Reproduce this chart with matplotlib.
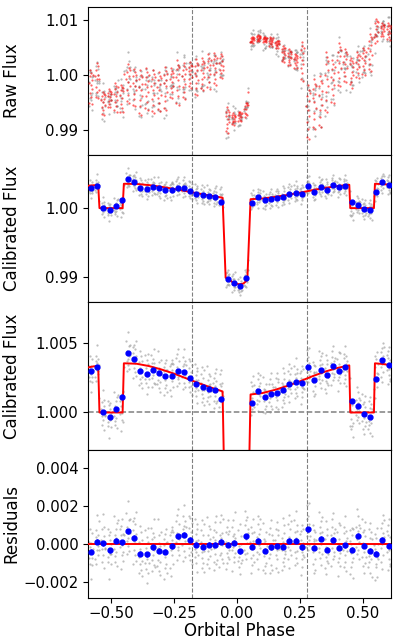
import numpy as np
import matplotlib
matplotlib.use('Agg')
import matplotlib.pyplot as plt

# ---------------- data ----------------
BIN_PHASE = [-0.581, -0.556, -0.532, -0.507, -0.482, -0.458, -0.433, -0.408, -0.384, -0.359,
             -0.334, -0.310, -0.285, -0.260, -0.236, -0.211, -0.186, -0.162, -0.137, -0.112,
             -0.088, -0.063, -0.038, -0.014, 0.011, 0.036, 0.060, 0.085, 0.110, 0.134,
             0.159, 0.184, 0.208, 0.233, 0.258, 0.282, 0.307, 0.332, 0.356, 0.381,
             0.406, 0.430, 0.455, 0.480, 0.504, 0.529, 0.553, 0.578, 0.603]

BIN_FLUX = [1.00296, 1.00325, 1.00005, 0.99971, 1.00024, 1.00115, 1.00428, 1.00387, 1.00300, 1.00281,
            1.00308, 1.00286, 1.00260, 1.00264, 1.00300, 1.00293, 1.00250, 1.00204, 1.00185, 1.00173,
            1.00163, 1.00096, 0.98966, 0.98907, 0.98859, 0.98985, 1.00072, 1.00156, 1.00111, 1.00132,
            1.00144, 1.00159, 1.00207, 1.00221, 1.00212, 1.00325, 1.00238, 1.00308, 1.00267, 1.00332,
            1.00303, 1.00327, 1.00084, 1.00046, 0.99990, 0.99971, 1.00240, 1.00382, 1.00341]

BIN_RESID = [-0.00040, 0.00012, 0.00005, -0.00031, 0.00019, 0.00010, 0.00068, 0.00033, -0.00049, -0.00052,
             -0.00016, -0.00033, -0.00040, -0.00010, 0.00043, 0.00050, 0.00023, -0.00002, -0.00014, -0.00003,
             -0.00002, 0.00012, -0.00003, 0.00009, -0.00037, 0.00043, -0.00014, 0.00019, -0.00033, -0.00017,
             -0.00010, -0.00014, 0.00019, 0.00019, -0.00016, 0.00078, -0.00019, 0.00030, -0.00030, 0.00023,
             -0.00019, -0.00005, -0.00030, 0.00045, -0.00009, -0.00033, -0.00049, 0.00023, -0.00009]

BIN_FLUX_ERR = 0.00013

MODEL_PHASE = [-0.593, -0.570, -0.552, -0.547, -0.455, -0.450, -0.40, -0.35, -0.30, -0.25,
               -0.20, -0.15, -0.10, -0.0577, -0.0455, -0.033, -0.020, -0.008, 0.010, 0.025,
               0.036, 0.041, 0.0536, 0.10, 0.15, 0.20, 0.25, 0.30, 0.35, 0.40,
               0.446, 0.450, 0.544, 0.548, 0.58, 0.613]
MODEL_FLUX = [1.00325, 1.00333, 1.00336, 1.00000, 1.00000, 1.00355, 1.00352, 1.00335, 1.00310, 1.00280,
              1.00245, 1.00210, 1.00178, 1.00152, 0.98985, 0.98965, 0.98925, 0.98900, 0.98890, 0.98900,
              0.98935, 0.98975, 1.00130, 1.00140, 1.00163, 1.00192, 1.00225, 1.00262, 1.00295, 1.00322,
              1.00340, 1.00000, 1.00000, 1.00355, 1.00350, 1.00340]

EXPOSURE_OFFSET = [-0.0070, -0.0057, -0.0044, -0.0032, -0.0019, -0.0006,
                   0.0006, 0.0019, 0.0032, 0.0044, 0.0057, 0.0070]
# systematic (pointing) pattern of the 12 exposures within each orbit, relative units
RAMP_SHAPE = [0.32, -1.20, 0.78, -0.45, 1.30, -0.80, 0.12, 1.05, -1.30, 0.52, -0.20, 0.90]

RAW_MID = [0.99785, 0.99895, 0.99485, 0.99575, 0.99590, 0.99560, 0.99845, 0.99770, 0.99680, 0.99740,
           0.99695, 0.99695, 0.99755, 0.99850, 0.99860, 0.99895, 1.00000, 0.99955, 1.00015, 1.00060,
           1.00105, 1.00165, 0.99180, 0.99195, 0.99240, 0.99365, 1.00640, 1.00670, 1.00640, 1.00605,
           1.00560, 1.00380, 1.00320, 1.00255, 1.00245, 0.99320, 0.99470, 0.99515, 0.99875, 0.99875,
           1.00185, 1.00165, 1.00030, 1.00180, 1.00245, 1.00410, 1.00820, 1.00820, 1.00790]
RAW_HALF = [0.0024, 0.0025, 0.0016, 0.0013, 0.0020, 0.0020, 0.0027, 0.0026, 0.0031, 0.0029,
            0.0030, 0.0027, 0.0030, 0.0021, 0.0031, 0.0025, 0.0018, 0.0025, 0.0022, 0.0024,
            0.0022, 0.0017, 0.0018, 0.0008, 0.0007, 0.0010, 0.0004, 0.0004, 0.0004, 0.0006,
            0.0005, 0.0011, 0.0011, 0.0010, 0.0027, 0.0038, 0.0035, 0.0036, 0.0042, 0.0030,
            0.0030, 0.0023, 0.0021, 0.0018, 0.0019, 0.0026, 0.0015, 0.0009, 0.0012]

# point-to-point scatter about each bin (units of 1e-5)
SCATTER = [
    [52, -31, 118, -64, 27, -8, -143, 45, -71, 97, -35, 13],
    [-88, 24, 61, -117, 9, 143, -42, -70, 35, -19, 108, -44],
    [17, -96, 73, -28, 156, -61, -5, 40, -132, 88, -23, -29],
    [-64, 111, -37, 82, -9, -150, 54, -21, 96, -73, 30, -19],
    [129, -44, -83, 27, -110, 61, 14, -58, 92, -6, -131, 109],
    [-23, 70, -141, 38, 85, -67, 121, -15, -96, 44, -52, 36],
    [94, -120, 25, -49, 160, -33, -78, 58, -11, -105, 67, -8],
    [-137, 42, 88, -15, -63, 104, -29, 71, -92, 19, 134, -122],
    [61, -18, -104, 147, -55, 23, -86, 112, 7, -41, -119, 73],
    [-46, 128, -9, -77, 33, -152, 90, -24, 65, 138, -101, -45],
    [103, -65, 41, -126, 18, 76, -38, -95, 149, -12, 52, -103],
    [-79, 15, 163, -48, -107, 37, 84, -131, 26, -58, 99, -1],
    [34, -141, 67, 93, -26, -84, 12, 120, -63, 45, -109, 52],
    [-115, 59, -20, 74, -158, 101, -47, 31, 86, -92, 6, 75],
    [78, -33, -125, 16, 109, -71, 142, -56, -18, 63, -97, -8],
    [-54, 97, 28, -139, 46, -12, -88, 155, -31, 72, -116, 42],
    [126, -81, -43, 62, -19, 115, -107, 8, -66, 39, 91, -125],
    [-21, -67, 134, -98, 55, -39, 17, -144, 83, 107, -52, 25],
    [88, 25, -59, -112, 141, -26, 64, -83, -7, 119, -130, -20],
    [-103, 146, -35, 49, -74, 12, -121, 97, 28, -58, 83, -24],
    [41, -92, 76, -17, -135, 118, -49, 23, -101, 64, 152, -80],
    [-130, 38, -71, 105, 21, -56, 139, -88, 47, -14, -112, 121],
    [67, -127, 14, 92, -43, -98, 58, 131, -65, -29, 73, -73],
    [-37, 84, -149, 33, 117, -22, -76, 46, -104, 158, -53, 23],
    [112, -49, 26, -83, -31, 145, -118, -6, 79, -64, 37, -48],
    [-71, 133, -94, 57, -18, -121, 84, -39, 102, -87, 16, 38],
    [24, -58, 107, -136, 73, -11, -95, 148, -42, 31, -78, 77],
    [-96, 17, -62, 128, -147, 86, 35, -71, -23, 114, -40, 59],
    [145, -103, 39, -27, 61, -84, -119, 52, 96, -15, -68, 23],
    [-58, 71, -133, 104, -36, 19, 143, -92, -8, -117, 67, 40],
    [33, -115, 92, -44, 127, -69, -21, 85, -138, 56, 11, -17],
    [-124, 46, -18, 153, -81, 28, -57, -103, 74, 117, -35, -20],
    [89, -36, -97, 21, -142, 136, 63, -48, -9, -76, 102, -3],
    [-14, 109, -61, -128, 47, -93, 158, 12, -54, 81, -117, 51],
    [72, -147, 38, 85, -26, -64, 119, -105, 23, -39, 94, -50],
    [-91, 54, 126, -33, -108, 71, -15, -82, 140, -57, 29, -34],
    [118, -22, -87, 49, 96, -131, 34, -60, -116, 83, -4, 40],
    [-48, 137, -69, -101, 28, 63, -140, 91, -27, -83, 114, 35],
    [57, -93, 152, -38, -125, 17, 79, -56, 108, -11, -71, -19],
    [-136, 26, -44, 112, 69, -99, -18, 143, -62, 37, -85, 57],
    [83, -72, 19, -146, 131, -51, 45, -27, -94, 121, -8, -1],
    [-27, 98, -113, 63, -54, 154, -86, 21, -137, 74, 39, -32],
    [106, -129, 47, -15, -92, 32, 117, -66, 81, -43, -150, 112],
    [-62, 43, -96, 138, -19, -77, 25, 104, -121, 58, -34, 42],
    [139, -56, 71, -108, 14, -33, -144, 86, 52, -91, 127, -57],
    [-85, 114, -28, -59, 147, -116, 66, -12, -43, 95, -138, 59],
    [44, -139, 101, 26, -72, 83, -57, -123, 135, -18, 49, -29],
    [-117, 62, -45, 91, -23, -154, 128, 37, -81, 16, 103, -17],
    [76, -31, -128, 55, 112, -67, -19, 142, -94, 48, -106, 12],
]

VISIT_BREAKS = [-0.1796, 0.2786]
X_TICKS = [-0.50, -0.25, 0.00, 0.25, 0.50]

# ---------------- derived points ----------------
bp = np.array(BIN_PHASE)
phase = (bp[:, None] + np.array(EXPOSURE_OFFSET)[None, :]).ravel()
model_pts = np.interp(phase, MODEL_PHASE, MODEL_FLUX)
resid = (np.array(BIN_RESID)[:, None] + np.array(SCATTER) * 1e-5).ravel()
calib = model_pts + resid
model_ctr = np.interp(bp, MODEL_PHASE, MODEL_FLUX)
syst = (np.array(RAW_MID) - model_ctr)[:, None] + np.array(RAW_HALF)[:, None] * np.array(RAMP_SHAPE)[None, :]
raw_model = model_pts + syst.ravel()
raw_data = raw_model + resid

# ---------------- figure ----------------
plt.rcParams['font.family'] = ['DejaVu Sans']
fig = plt.figure(figsize=(3.99, 6.42), dpi=100)
gs = fig.add_gridspec(4, 1, left=0.2206, right=0.9807, top=0.9891, bottom=0.0690, hspace=0)
axes = [fig.add_subplot(gs[i]) for i in range(4)]

TICK_FS = 10.7
LAB_FS = 12
GRAY = '#8a8a8a'

ax1, ax2, ax3, ax4 = axes
ax1.scatter(phase, raw_data, s=2.6, color=GRAY, alpha=0.6, linewidths=0, zorder=2)
ax1.scatter(phase, raw_model, s=2.6, color='red', alpha=0.6, linewidths=0, zorder=3)
ax1.set_ylim(0.98545, 1.01236)
ax1.set_yticks([0.99, 1.00, 1.01])
ax1.set_yticklabels(['0.99', '1.00', '1.01'])
ax1.set_ylabel('Raw Flux', fontsize=LAB_FS)

for ax in (ax2, ax3):
    ax.scatter(phase, calib, s=2.6, color=GRAY, alpha=0.55, linewidths=0, zorder=2)
    ax.plot(MODEL_PHASE, MODEL_FLUX, color='red', lw=1.4, zorder=3)
    ax.errorbar(BIN_PHASE, BIN_FLUX, yerr=BIN_FLUX_ERR, fmt='o', color='blue', ms=3.5,
                elinewidth=1, capsize=0, zorder=5)
    ax.set_ylabel('Calibrated Flux', fontsize=LAB_FS)
ax2.set_ylim(0.98626, 1.00779)
ax2.set_yticks([0.99, 1.00])
ax2.set_yticklabels(['0.99', '1.00'])
ax3.set_ylim(0.99729, 1.00795)
ax3.set_yticks([1.000, 1.005])
ax3.set_yticklabels(['1.000', '1.005'])
ax3.axhline(1.0, color='gray', ls='--', lw=1.1, zorder=1)

ax4.scatter(phase, resid, s=2.6, color=GRAY, alpha=0.55, linewidths=0, zorder=2)
ax4.axhline(0.0, color='red', lw=1.4, zorder=3)
ax4.errorbar(BIN_PHASE, BIN_RESID, yerr=BIN_FLUX_ERR, fmt='o', color='blue', ms=3.5,
             elinewidth=1, capsize=0, zorder=5)
ax4.set_ylim(-0.00281, 0.00495)
ax4.set_yticks([-0.002, 0.000, 0.002, 0.004])
ax4.set_yticklabels(['\u22120.002', '0.000', '0.002', '0.004'])
ax4.set_ylabel('Residuals', fontsize=LAB_FS)
ax4.set_xlabel('Orbital Phase', fontsize=LAB_FS, labelpad=0.5)

for i, ax in enumerate(axes):
    ax.set_xlim(-0.5925, 0.6130)
    for xb in VISIT_BREAKS:
        ax.axvline(xb, color='gray', ls='--', lw=0.8, zorder=1)
    ax.tick_params(axis='y', labelsize=TICK_FS)
    ax.yaxis.set_label_coords(-0.222, 0.5)
    if i < 3:
        ax.tick_params(axis='x', bottom=False, labelbottom=False)
    else:
        ax.set_xticks(X_TICKS)
        ax.set_xticklabels(['\u22120.50', '\u22120.25', '0.00', '0.25', '0.50'])
        ax.tick_params(axis='x', labelsize=TICK_FS, pad=2.5)

fig.savefig('out.png', dpi=100)
